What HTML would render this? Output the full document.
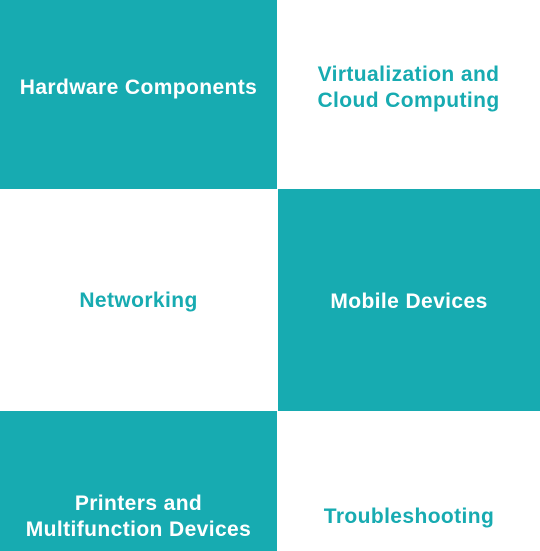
<!DOCTYPE html>
<html><head><style>
body{margin:0;width:540px;height:551px;position:relative;background:#fff;font-family:"Liberation Sans",sans-serif;font-weight:bold;font-size:21px;letter-spacing:0.4px;}
.c{position:absolute;display:flex;align-items:center;justify-content:center;text-align:center;line-height:26px;}
.t{background:#17abb1;color:#fff}
.w{color:#17abb1}
</style></head><body>
<div class="t" style="position:absolute;left:0;top:0;width:277px;height:189px"></div>
<div class="c" style="left:0;top:0;width:277px;height:176px;color:#fff">Hardware Components</div>
<div class="c w" style="left:277px;top:0;width:263px;height:175px">Virtualization and<br>Cloud Computing</div>
<div class="c w" style="left:0;top:189px;width:277px;height:224px">Networking</div>
<div class="c t" style="left:278px;top:189px;width:262px;height:222px;padding-top:3px;box-sizing:border-box">Mobile Devices</div>
<div class="c t" style="left:0;top:411px;width:277px;height:140px;padding-top:71px;box-sizing:border-box">Printers and<br>Multifunction Devices</div>
<div class="c w" style="left:278px;top:411px;width:262px;height:140px;padding-top:72px;box-sizing:border-box">Troubleshooting</div>
</body></html>
